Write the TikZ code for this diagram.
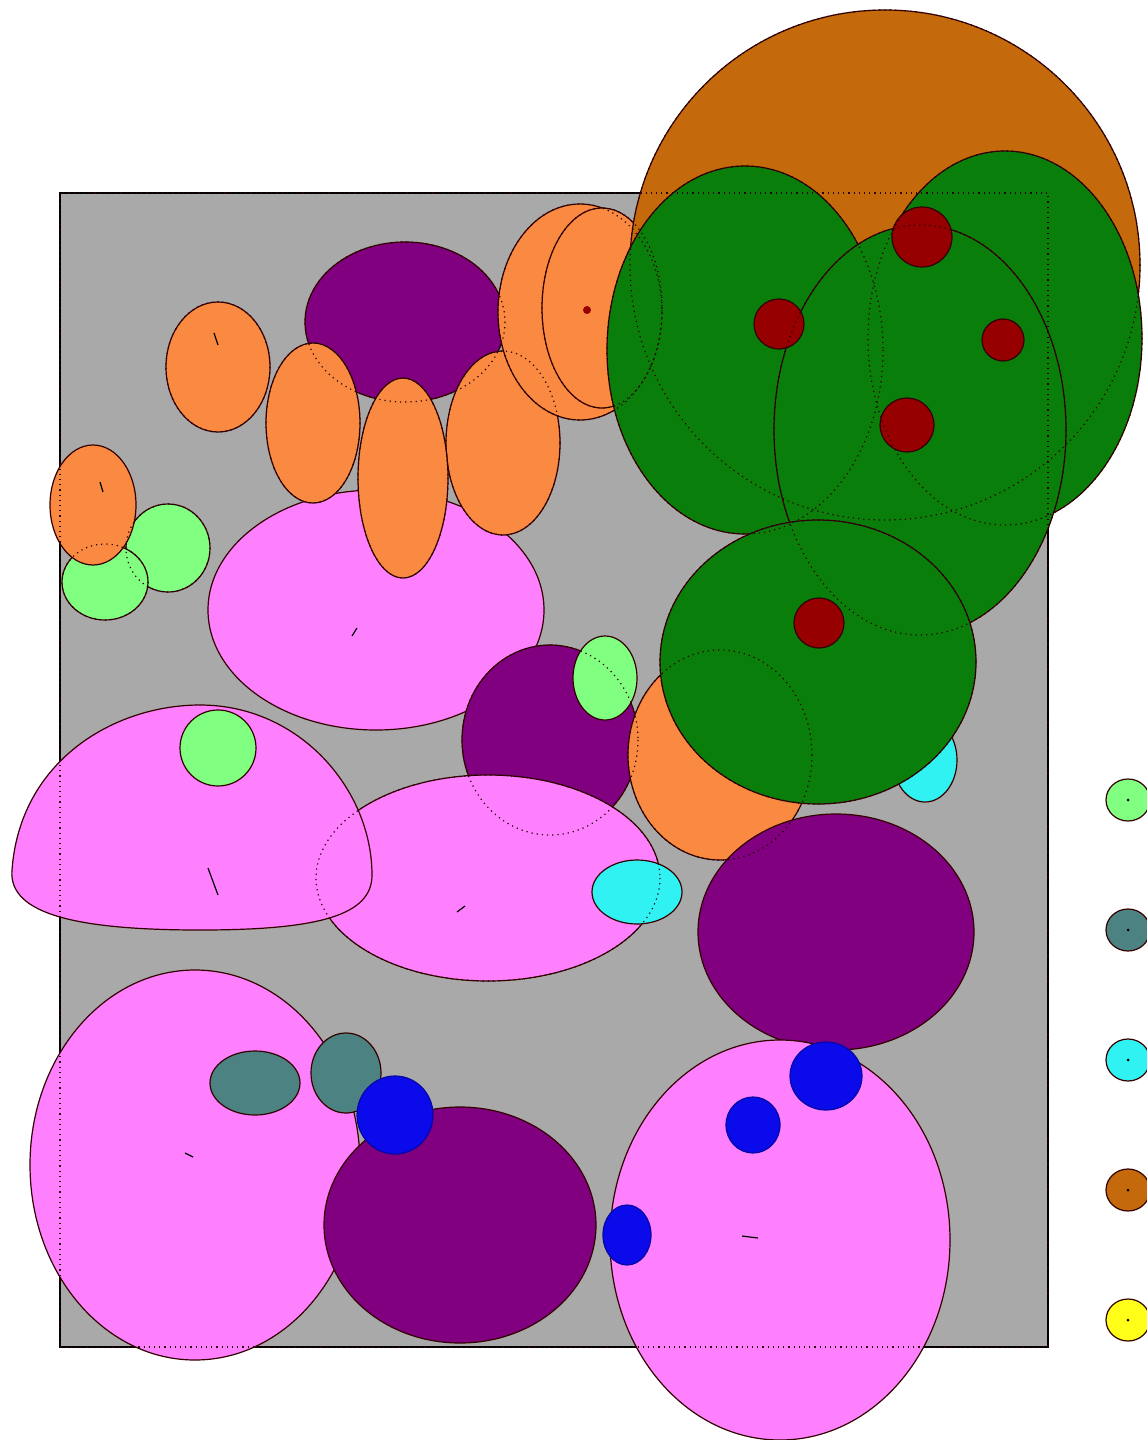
\documentclass[tikz,border=0pt]{standalone}
\usepackage{tikz}
\definecolor{plotgray}{HTML}{A9A9A9}
\definecolor{cellpink}{HTML}{FF80FF}
\definecolor{cellpurple}{HTML}{800080}
\definecolor{cellorange}{HTML}{FA8A42}
\definecolor{cellbrown}{HTML}{C46A0C}
\definecolor{cellgreen}{HTML}{0A7E0A}
\definecolor{cellred}{HTML}{960000}
\definecolor{celllime}{HTML}{80FF80}
\definecolor{cellcyan}{HTML}{30F2F2}
\definecolor{cellteal}{HTML}{4C8282}
\definecolor{cellblue}{HTML}{0A0AEA}
\definecolor{cellyellow}{HTML}{FFFF1A}

% ellipse lists: x/y/rx/ry in pixels
\newcommand\browncells{885/265/255/255}
\newcommand\backorange{218/367/52/65, 313/423/47/80, 503/443/57/92}
\newcommand\frontorange{403/478/45/100, 580/312/82/108, 602/308/60/100}
\newcommand\limecells{168/548/42/44, 105/582/43/38}
\newcommand\leftdome{(12,870) .. controls (20,760) and (115,705) .. (200,705) .. controls (300,705) and (372,790) .. (372,875) .. controls (372,915) and (320,930) .. (200,930) .. controls (80,930) and (8,915) .. (12,870) -- cycle}
\newcommand\greencells{745/350/138/184, 1005/338/137/187, 920/430/146/205, 818/662/158/142}
\newcommand\redcells{922/237/30/30, 779/324/25/25, 1003/340/21/21, 907/425/27/27, 819/623/25/25}
\newcommand\bluecells{395/1115/38/39, 826/1076/36/34, 753/1125/27/28, 627/1235/24/30}

\begin{document}
\begin{tikzpicture}[x=0.5pt, y=-0.5pt,
    blob/.style={draw=black!80!red, line width=0.6pt},
    hidden/.style={draw=black!85!red, dotted, line width=0.6pt},
    frame/.style={draw=black, line width=1pt},
    ctick/.style={draw=black, line width=0.6pt},
]
    \useasboundingbox[fill=white] (0,0) rectangle (1146,1440);
    \filldraw[frame, fill=plotgray] (60,193) rectangle (1048,1347);

    % top row
    \filldraw[blob, fill=cellpink] (376,610) ellipse [x radius=168, y radius=120];
    \filldraw[blob, fill=cellpurple] (405,322) ellipse [x radius=100, y radius=80];
    \foreach \cx/\cy/\rx/\ry in \backorange
        \filldraw[blob, fill=cellorange] (\cx,\cy) ellipse [x radius=\rx, y radius=\ry];
    \foreach \cx/\cy/\rx/\ry in \frontorange
        \filldraw[blob, fill=cellorange] (\cx,\cy) ellipse [x radius=\rx, y radius=\ry];
    \foreach \cx/\cy/\rx/\ry in \browncells
        \filldraw[blob, fill=cellbrown] (\cx,\cy) ellipse [x radius=\rx, y radius=\ry];
    \foreach \cx/\cy/\rx/\ry in \limecells
        \filldraw[blob, fill=celllime] (\cx,\cy) ellipse [x radius=\rx, y radius=\ry];
    \filldraw[blob, fill=cellorange] (93,505) ellipse [x radius=43, y radius=60];

    % middle
    \filldraw[blob, fill=cellpurple] (550,740) ellipse [x radius=88, y radius=95];
    \filldraw[blob, fill=cellpink] (488,878) ellipse [x radius=172, y radius=103];
    \filldraw[blob, fill=cellpink] \leftdome;
    \filldraw[blob, fill=celllime] (218,748) ellipse [x radius=38, y radius=38];
    \filldraw[blob, fill=celllime] (605,678) ellipse [x radius=32, y radius=42];
    \filldraw[blob, fill=cellcyan] (637,892) ellipse [x radius=45, y radius=32];
    \filldraw[blob, fill=cellorange] (720,755) ellipse [x radius=92, y radius=105];
    \filldraw[blob, fill=cellcyan] (925,760) ellipse [x radius=32, y radius=42];
    \filldraw[blob, fill=cellpurple] (836,932) ellipse [x radius=138, y radius=118];

    % green cluster
    \foreach \cx/\cy/\rx/\ry in \greencells
        \filldraw[blob, fill=cellgreen] (\cx,\cy) ellipse [x radius=\rx, y radius=\ry];
    \foreach \cx/\cy/\rx/\ry in \redcells
        \filldraw[blob, fill=cellred] (\cx,\cy) ellipse [x radius=\rx, y radius=\ry];

    % bottom
    \filldraw[blob, fill=cellpink] (195,1165) ellipse [x radius=165, y radius=195];
    \filldraw[blob, fill=cellteal] (255,1083) ellipse [x radius=45, y radius=32];
    \filldraw[blob, fill=cellteal] (346,1073) ellipse [x radius=35, y radius=40];
    \filldraw[blob, fill=cellpurple] (460,1225) ellipse [x radius=136, y radius=118];
    \filldraw[blob, fill=cellpink] (780,1240) ellipse [x radius=170, y radius=200];
    \foreach \cx/\cy/\rx/\ry in \bluecells
        \filldraw[blob, draw=cellblue!70!black, fill=cellblue] (\cx,\cy) ellipse [x radius=\rx, y radius=\ry];

    % legend
    \foreach \c [count=\i] in {celllime, cellteal, cellcyan, cellbrown, cellyellow}
        \filldraw[blob, fill=\c] (1128,670+130*\i) ellipse [x radius=22, y radius=21];
    \foreach \i in {1,...,5}
        \fill[black] (1128,670+130*\i) circle [radius=1.5];

    % hidden outlines
    \foreach \cx/\cy/\rx/\ry in \browncells
        \draw[hidden] (\cx,\cy) ellipse [x radius=\rx, y radius=\ry];
    \foreach \cx/\cy/\rx/\ry in \backorange
        \draw[hidden] (\cx,\cy) ellipse [x radius=\rx, y radius=\ry];
    \foreach \cx/\cy/\rx/\ry in \frontorange
        \draw[hidden] (\cx,\cy) ellipse [x radius=\rx, y radius=\ry];
    \foreach \cx/\cy/\rx/\ry in \limecells
        \draw[hidden] (\cx,\cy) ellipse [x radius=\rx, y radius=\ry];
    \foreach \cx/\cy/\rx/\ry in \greencells
        \draw[hidden] (\cx,\cy) ellipse [x radius=\rx, y radius=\ry];
    \draw[hidden] (550,740) ellipse [x radius=88, y radius=95];
    \draw[hidden] (488,878) ellipse [x radius=172, y radius=103];
    \draw[hidden] (720,755) ellipse [x radius=92, y radius=105];
    \draw[hidden] (405,322) ellipse [x radius=100, y radius=80];
    \draw[hidden] (60,193) rectangle (1048,1347);

    % centre ticks
    \draw[ctick] (214,333) -- (218,345);
    \draw[ctick] (100,482) -- (103,492);
    \draw[ctick] (352,636) -- (357,628);
    \draw[ctick] (208,868) -- (218,895);
    \draw[ctick] (457,912) -- (465,906);
    \draw[ctick] (185,1153) -- (193,1157);
    \draw[ctick] (742,1236) -- (758,1238);
    \fill[cellred] (587,310) circle [radius=4];
\end{tikzpicture}
\end{document}
